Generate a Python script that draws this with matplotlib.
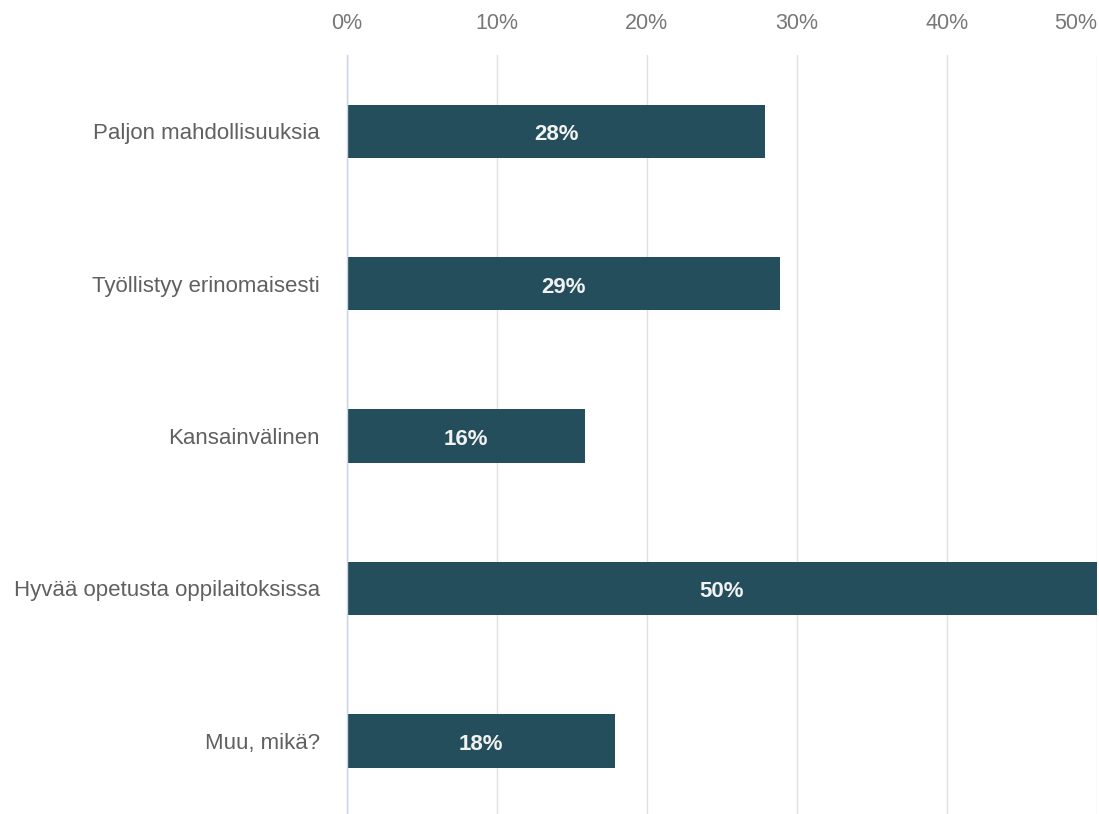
import matplotlib.pyplot as plt
from matplotlib.ticker import FuncFormatter

plt.rcParams['font.family'] = ['Liberation Sans', 'DejaVu Sans']

categories = ['Paljon mahdollisuuksia', 'Työllistyy erinomaisesti', 'Kansainvälinen',
              'Hyvää opetusta oppilaitoksissa', 'Muu, mikä?']
values = [27.9, 28.9, 15.9, 50.0, 17.9]
labels = ['28%', '29%', '16%', '50%', '18%']
ticks = [0, 10, 20, 30, 40, 50]

bar_color = '#244e5b'

fig = plt.figure(figsize=(10.99, 8.14), dpi=100)
ax = fig.add_axes([0.3157, 0.0, 0.6824, 0.9324])

y = list(range(len(categories)))
bars = ax.barh(y, values, height=0.35, color=bar_color, zorder=3)

for b, lab in zip(bars, labels):
    ax.annotate(lab, (b.get_width() / 2, b.get_y() + b.get_height() / 2),
                xytext=(0, -2.5), textcoords='offset points',
                ha='center', va='center', color='#f2f2f2', fontsize=16, fontweight='bold', zorder=4)

ax.set_xlim(0, 50)
ax.set_ylim(4.48, -0.5)
ax.set_yticks(y)
ax.set_yticklabels(categories)
ax.set_xticks(ticks)
ax.xaxis.set_major_formatter(FuncFormatter(lambda v, p: f'{int(v)}%'))
ax.xaxis.tick_top()

ax.tick_params(axis='x', length=0, pad=15, labelsize=15.5, labelcolor='#777777')
ax.tick_params(axis='y', length=0, pad=19.5, labelsize=16, labelcolor='#606060')
# last tick label sits flush with the right edge
ax.get_xticklabels()[-1].set_horizontalalignment('right')

ax.grid(axis='x', color='#e0e0e0', linewidth=1, zorder=0)
for s in ['top', 'right', 'bottom']:
    ax.spines[s].set_visible(False)
ax.spines['left'].set_color('#c9d4e8')
ax.spines['left'].set_linewidth(1)
ax.spines['left'].set_zorder(5)

fig.savefig('out.png', dpi=100)
